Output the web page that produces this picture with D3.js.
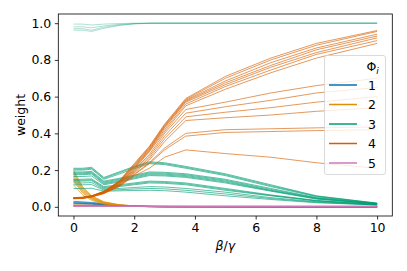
<!DOCTYPE html>
<html>
<head>
<meta charset="utf-8">
<script src="https://cdn.jsdelivr.net/npm/d3@7"></script>
<style>
  body { margin: 0; background: #fff; }
  svg { display: block; font-family: "DejaVu Sans", sans-serif; }
</style>
</head>
<body>
<svg id="chart" width="407" height="271"></svg>
<script>
// beta/gamma sample points shared by every run
var xs = [0, 0.3, 0.6, 1.0, 1.5, 2.0, 2.5, 3.0, 3.7, 5, 6.5, 8, 10];

var phi1 = [
  [0.03, 0.027, 0.024, 0.018, 0.01, 0.005, 0.002, 0.001, 0, 0, 0, 0, 0],
  [0.026, 0.024, 0.021, 0.015, 0.008, 0.004, 0.002, 0.001, 0, 0, 0, 0, 0],
  [0.022, 0.02, 0.018, 0.013, 0.007, 0.003, 0.001, 0, 0, 0, 0, 0, 0],
  [0.02, 0.018, 0.016, 0.011, 0.006, 0.003, 0.001, 0, 0, 0, 0, 0, 0],
  [0.017, 0.016, 0.014, 0.01, 0.005, 0.002, 0.001, 0, 0, 0, 0, 0, 0]
];

var phi2 = [
  [0.2, 0.11, 0.06, 0.028, 0.012, 0.005, 0.002, 0.001, 0, 0, 0, 0, 0],
  [0.19, 0.104, 0.056, 0.026, 0.011, 0.005, 0.002, 0.001, 0, 0, 0, 0, 0],
  [0.18, 0.098, 0.053, 0.024, 0.01, 0.004, 0.002, 0.001, 0, 0, 0, 0, 0],
  [0.17, 0.092, 0.05, 0.022, 0.009, 0.004, 0.002, 0.001, 0, 0, 0, 0, 0],
  [0.16, 0.086, 0.047, 0.02, 0.008, 0.003, 0.001, 0, 0, 0, 0, 0, 0],
  [0.15, 0.08, 0.043, 0.018, 0.007, 0.003, 0.001, 0, 0, 0, 0, 0, 0],
  [0.14, 0.075, 0.04, 0.017, 0.007, 0.003, 0.001, 0, 0, 0, 0, 0, 0],
  [0.12, 0.065, 0.035, 0.015, 0.006, 0.002, 0.001, 0, 0, 0, 0, 0, 0]
];

// first four runs sit near 1, the rest form the low bundle
var phi3 = [
  [0.995, 0.995, 0.99, 0.995, 0.998, 1, 1, 1, 1, 1, 1, 1, 1],
  [0.98, 0.98, 0.975, 0.985, 0.993, 0.998, 1, 1, 1, 1, 1, 1, 1],
  [0.97, 0.97, 0.962, 0.978, 0.99, 0.997, 1, 1, 1, 1, 1, 1, 1],
  [0.962, 0.962, 0.955, 0.972, 0.987, 0.996, 0.999, 1, 1, 1, 1, 1, 1],
  [0.21, 0.21, 0.215, 0.16, 0.19, 0.22, 0.245, 0.24, 0.22, 0.18, 0.12, 0.06, 0.02],
  [0.205, 0.205, 0.21, 0.155, 0.185, 0.215, 0.24, 0.235, 0.215, 0.175, 0.115, 0.058, 0.02],
  [0.2, 0.2, 0.205, 0.15, 0.178, 0.208, 0.235, 0.23, 0.21, 0.17, 0.11, 0.055, 0.018],
  [0.19, 0.19, 0.193, 0.14, 0.155, 0.172, 0.19, 0.188, 0.18, 0.15, 0.1, 0.05, 0.018],
  [0.185, 0.185, 0.188, 0.135, 0.15, 0.167, 0.185, 0.183, 0.175, 0.145, 0.095, 0.048, 0.016],
  [0.18, 0.18, 0.183, 0.13, 0.145, 0.162, 0.18, 0.178, 0.17, 0.14, 0.09, 0.046, 0.016],
  [0.175, 0.175, 0.178, 0.125, 0.14, 0.157, 0.175, 0.173, 0.165, 0.135, 0.088, 0.044, 0.015],
  [0.165, 0.165, 0.168, 0.12, 0.135, 0.152, 0.17, 0.168, 0.16, 0.13, 0.085, 0.042, 0.015],
  [0.15, 0.15, 0.152, 0.11, 0.12, 0.13, 0.14, 0.138, 0.13, 0.1, 0.065, 0.035, 0.013],
  [0.145, 0.145, 0.147, 0.105, 0.115, 0.125, 0.135, 0.133, 0.125, 0.095, 0.062, 0.033, 0.012],
  [0.14, 0.14, 0.142, 0.1, 0.11, 0.12, 0.13, 0.128, 0.12, 0.09, 0.06, 0.032, 0.012],
  [0.13, 0.13, 0.132, 0.095, 0.1, 0.105, 0.11, 0.108, 0.1, 0.08, 0.05, 0.028, 0.011],
  [0.12, 0.12, 0.121, 0.09, 0.093, 0.097, 0.1, 0.098, 0.09, 0.07, 0.045, 0.025, 0.01],
  [0.1, 0.1, 0.101, 0.085, 0.087, 0.089, 0.09, 0.088, 0.08, 0.06, 0.04, 0.022, 0.01]
];

var phi4 = [
  [0.05, 0.052, 0.06, 0.085, 0.14, 0.235, 0.33, 0.45, 0.59, 0.71, 0.81, 0.89, 0.96],
  [0.05, 0.052, 0.06, 0.084, 0.138, 0.23, 0.325, 0.445, 0.585, 0.7, 0.8, 0.88, 0.955],
  [0.049, 0.051, 0.059, 0.083, 0.136, 0.225, 0.32, 0.44, 0.58, 0.685, 0.785, 0.865, 0.94],
  [0.049, 0.051, 0.059, 0.082, 0.134, 0.22, 0.315, 0.435, 0.575, 0.675, 0.77, 0.855, 0.93],
  [0.048, 0.05, 0.058, 0.081, 0.132, 0.215, 0.31, 0.43, 0.57, 0.665, 0.76, 0.84, 0.92],
  [0.048, 0.05, 0.058, 0.08, 0.13, 0.21, 0.305, 0.42, 0.56, 0.655, 0.745, 0.83, 0.905],
  [0.047, 0.049, 0.057, 0.079, 0.128, 0.205, 0.3, 0.41, 0.55, 0.64, 0.73, 0.81, 0.89],
  [0.047, 0.049, 0.057, 0.078, 0.125, 0.2, 0.285, 0.4, 0.53, 0.57, 0.62, 0.66, 0.7],
  [0.046, 0.048, 0.056, 0.077, 0.122, 0.195, 0.275, 0.385, 0.51, 0.545, 0.58, 0.62, 0.65],
  [0.046, 0.048, 0.056, 0.076, 0.12, 0.19, 0.265, 0.37, 0.49, 0.515, 0.54, 0.57, 0.6],
  [0.045, 0.047, 0.055, 0.075, 0.117, 0.185, 0.255, 0.355, 0.47, 0.485, 0.5, 0.52, 0.54],
  [0.045, 0.047, 0.055, 0.074, 0.114, 0.178, 0.24, 0.32, 0.4, 0.42, 0.425, 0.43, 0.435],
  [0.044, 0.046, 0.054, 0.073, 0.112, 0.174, 0.235, 0.31, 0.385, 0.405, 0.41, 0.415, 0.42],
  [0.044, 0.046, 0.054, 0.072, 0.11, 0.168, 0.21, 0.27, 0.31, 0.29, 0.27, 0.24, 0.21],
  [0.01, 0.01, 0.009, 0.008, 0.006, 0.005, 0.004, 0.003, 0.002, 0.001, 0.001, 0, 0],
  [0.008, 0.008, 0.007, 0.006, 0.005, 0.004, 0.003, 0.002, 0.002, 0.001, 0, 0, 0],
  [0.007, 0.007, 0.006, 0.005, 0.004, 0.003, 0.002, 0.002, 0.001, 0.001, 0, 0, 0]
];

var phi5 = [
  [0.005, 0.005, 0.005, 0.005, 0.004, 0.004, 0.004, 0.004, 0.004, 0.004, 0.004, 0.004, 0.004],
  [0.004, 0.004, 0.004, 0.004, 0.004, 0.003, 0.003, 0.003, 0.003, 0.003, 0.003, 0.003, 0.003],
  [0.003, 0.003, 0.003, 0.003, 0.003, 0.003, 0.003, 0.003, 0.003, 0.003, 0.003, 0.002, 0.002],
  [0.003, 0.003, 0.003, 0.002, 0.002, 0.002, 0.002, 0.002, 0.002, 0.002, 0.002, 0.002, 0.002],
  [0.002, 0.002, 0.002, 0.002, 0.002, 0.002, 0.002, 0.002, 0.002, 0.002, 0.002, 0.002, 0.002]
];

var labels = ["1", "2", "3", "4", "5"];
var colors = ["#0173b2", "#de8f05", "#029e73", "#d55e00", "#cc78bc"];
var series = [phi1, phi2, phi3, phi4, phi5];

var xTicks = [0, 2, 4, 6, 8, 10];
var yTicks = [0, 0.2, 0.4, 0.6, 0.8, 1.0];

var svg = d3.select("#chart");
var plotLeft = 58.3, plotRight = 392.3, plotTop = 14, plotBottom = 216;
var fontSize = "12.5px";

var x = d3.scaleLinear().domain([-0.5, 10.5]).range([plotLeft, plotRight]);
var y = d3.scaleLinear().domain([-0.05, 1.05]).range([plotBottom, plotTop]);

svg.append("clipPath").attr("id", "clip")
  .append("rect")
    .attr("x", plotLeft).attr("y", plotTop)
    .attr("width", plotRight - plotLeft).attr("height", plotBottom - plotTop);

var line = d3.line()
    .x(function(d, i) { return x(xs[i]); })
    .y(function(d) { return y(d); });

var plot = svg.append("g").attr("clip-path", "url(#clip)");

series.forEach(function(s, k) {
  plot.append("g")
    .selectAll("path")
    .data(s)
    .enter().append("path")
      .attr("d", line)
      .attr("fill", "none")
      .attr("stroke", colors[k])
      .attr("stroke-width", 0.8)
      .attr("stroke-opacity", function(d) { return d[12] > 0.99 ? 0.4 : 0.8; });
});

// axes
var xAxis = d3.axisBottom(x).tickValues(xTicks).tickFormat(d3.format("d"))
    .tickSize(3.5).tickPadding(3.5);
var yAxis = d3.axisLeft(y).tickValues(yTicks).tickFormat(d3.format(".1f"))
    .tickSize(3.5).tickPadding(3.5);

var xAxisG = svg.append("g")
    .attr("transform", "translate(0, " + plotBottom + ")")
    .call(xAxis);
var yAxisG = svg.append("g")
    .attr("transform", "translate(" + plotLeft + ", 0)")
    .call(yAxis);

[xAxisG, yAxisG].forEach(function(g) {
  g.select(".domain").remove();
  g.selectAll("line").attr("stroke", "#000").attr("stroke-width", 0.8);
  g.selectAll("text").attr("fill", "#000")
    .style("font-family", "DejaVu Sans").style("font-size", fontSize);
});

svg.append("rect")
    .attr("x", plotLeft).attr("y", plotTop)
    .attr("width", plotRight - plotLeft).attr("height", plotBottom - plotTop)
    .attr("fill", "none")
    .attr("stroke", "#000")
    .attr("stroke-width", 0.8);

// axis labels
var xLab = svg.append("text")
    .attr("x", (plotLeft + plotRight) / 2)
    .attr("y", 250)
    .attr("text-anchor", "middle")
    .style("font-size", fontSize);
xLab.append("tspan").style("font-style", "italic").text("β");
xLab.append("tspan").text("/");
xLab.append("tspan").style("font-style", "italic").text("γ");

svg.append("text")
    .attr("transform", "translate(25, " + (plotTop + plotBottom) / 2 + ") rotate(-90)")
    .attr("text-anchor", "middle")
    .style("font-size", fontSize)
    .text("weight");

// legend
var legend = svg.append("g");
legend.append("rect")
    .attr("x", 324.5).attr("y", 55.5)
    .attr("width", 61).attr("height", 119)
    .attr("rx", 2.5)
    .attr("fill", "#fff").attr("fill-opacity", 0.8)
    .attr("stroke", "#d0d0d0").attr("stroke-width", 0.8);

var title = legend.append("text")
    .attr("x", 366.5).attr("y", 71)
    .style("font-size", fontSize);
title.append("tspan").text("Φ");
title.append("tspan").attr("dy", 2.5).style("font-size", "9px").style("font-style", "italic").text("i");

var rows = legend.selectAll(".row")
    .data(labels)
    .enter().append("g")
      .attr("transform", function(d, i) { return "translate(0, " + (85 + i * 19.5) + ")"; });

rows.append("line")
    .attr("x1", 329).attr("x2", 357)
    .attr("stroke", function(d, i) { return colors[i]; })
    .attr("stroke-width", 1.5);

rows.append("text")
    .attr("x", 368).attr("y", 4.5)
    .style("font-size", fontSize)
    .text(function(d) { return d; });
</script>
</body>
</html>
